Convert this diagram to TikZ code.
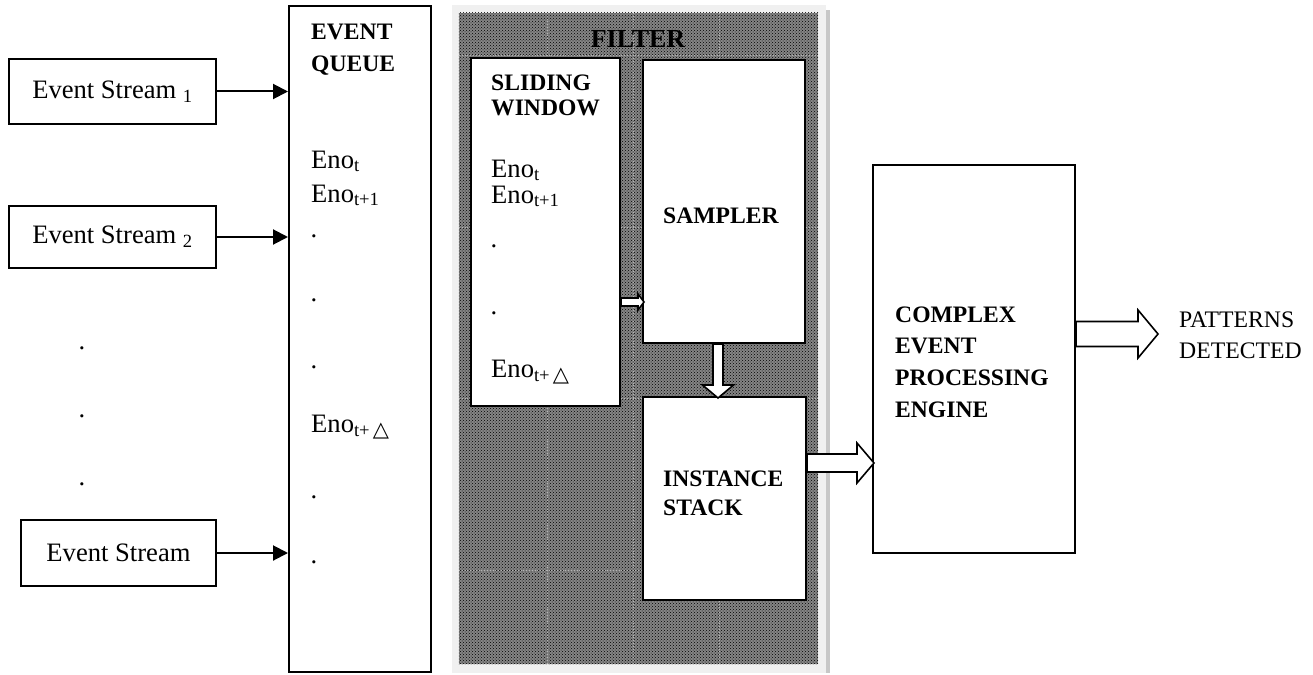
\documentclass[tikz,border=0pt]{standalone}
\usepackage{fontspec}
\setmainfont{Liberation Serif}
\newfontfamily\deltafont{DejaVu Sans}
\usepackage{tikz}
\usetikzlibrary{arrows.meta,patterns}

% the delta in the last index
\newcommand{\dlt}{{\deltafont\fontsize{21}{21}\selectfont\textbf{△}}}
\newcommand{\enolast}{Eno\textsubscript{t+\,\dlt}}

\tikzset{
  box/.style={draw, line width=2pt, fill=white, inner sep=0pt},
  feed/.style={line width=2pt, -{Triangle[length=15pt,width=15pt]}},
  txt/.style={anchor=base west, inner sep=0pt, font=\fontsize{26.6}{32}\selectfont},
  head/.style={anchor=base west, inner sep=0pt, font=\bfseries\fontsize{23.6}{30}\selectfont},
  pics/fatarrow/.style args={#1/#2/#3/#4}{code={
    \draw[line width=1.6pt, fill=white, line join=miter]
      (0,-#2) -- (#1-#4,-#2) -- (#1-#4,-#3) -- (#1,0) -- (#1-#4,#3) -- (#1-#4,#2) -- (0,#2) -- cycle;
  }}
}

\begin{document}
\begin{tikzpicture}[x=1pt, y=-1pt]
\useasboundingbox (0,0) rectangle (1313,674);

% Filter panel
\fill[black!6] (452,5) rectangle (826,673);
\fill[black!22] (826,10) rectangle (830,673);
\node[fill=black!48, inner sep=0pt, minimum width=359pt, minimum height=651pt] (filter) at (638.5,338.5) {};
\fill[pattern=crosshatch dots, pattern color=black] (filter.north west) rectangle (filter.south east);
\foreach \x in {547,633,719}
  \draw[black!30, dotted, line width=0.8pt] (\x,13) -- (\x,664);
\foreach \y in {55,227,398,570}
  \draw[black!30, dotted, line width=0.8pt] (459,\y) -- (818,\y);
\node[head, anchor=base, font=\bfseries\fontsize{26}{30}\selectfont] (ftitle) at (638,48) {FILTER};

% Input streams
\node[box, minimum width=207pt, minimum height=65pt, font=\fontsize{26.6}{32}\selectfont] (s1) at (112.5,91.5) {Event Stream \textsubscript{1}};
\node[box, minimum width=207pt, minimum height=62pt, font=\fontsize{26.6}{32}\selectfont] (s2) at (112.5,237) {Event Stream \textsubscript{2}};
\node[box, minimum width=195pt, minimum height=66pt, font=\fontsize{26.6}{32}\selectfont] (s3) at (118.5,553) {Event Stream};
\foreach \y [count=\i] in {349,417,485}
  \node[txt] (sd\i) at (78.5,\y) {.};

% Event queue
\node[box, minimum width=142pt, minimum height=666pt] (queue) at (360,339) {};
\node[head] (qh1) at (311,40) {EVENT};
\node[head] (qh2) at (311,72) {QUEUE};
\node[txt] (q1) at (311,168) {Eno\textsubscript{t}};
\node[txt] (q2) at (311,202) {Eno\textsubscript{t+1}};
\node[txt] (q3) at (311,432) {\enolast};
\foreach \y [count=\i] in {237,301,368,498,563}
  \node[txt] (qd\i) at (310.5,\y) {.};

\draw[feed] (s1.east) -- (s1.east -| queue.west);
\draw[feed] (s2.east) -- (s2.east -| queue.west);
\draw[feed] (s3.east) -- (s3.east -| queue.west);

% Sliding window
\node[box, minimum width=149pt, minimum height=348pt] (win) at (545.5,232) {};
\node[head] (wh1) at (491,91) {SLIDING};
\node[head] (wh2) at (491,115) {WINDOW};
\node[txt] (w1) at (491,177) {Eno\textsubscript{t}};
\node[txt] (w2) at (491,203) {Eno\textsubscript{t+1}};
\node[txt] (w3) at (491,377) {\enolast};
\foreach \y [count=\i] in {247,314}
  \node[txt] (wd\i) at (490.5,\y) {.};

% Sampler and instance stack
\node[box, minimum width=162pt, minimum height=283pt] (samp) at (724,201.5) {};
\node[head] (sampt) at (663,223) {SAMPLER};
\node[box, minimum width=163pt, minimum height=203pt] (stack) at (724.5,498.5) {};
\node[head] (st1) at (663,486) {INSTANCE};
\node[head] (st2) at (663,515) {STACK};

% Engine
\node[box, minimum width=202pt, minimum height=388pt] (cep) at (974,359) {};
\node[head] (c1) at (895,322) {COMPLEX};
\node[head] (c2) at (895,353) {EVENT};
\node[head] (c3) at (895,385) {PROCESSING};
\node[head] (c4) at (895,417) {ENGINE};

% Output
\node[txt, font=\fontsize{23.7}{30}\selectfont] (o1) at (1179,327) {PATTERNS};
\node[txt, font=\fontsize{23.7}{30}\selectfont] (o2) at (1179,358) {DETECTED};

% Block arrows
\pic at (win.east |- 0,302) {fatarrow=23/4/8/6};
\pic[rotate=-90] at (samp.south -| 718,0) {fatarrow=54/5/15.5/13};
\pic at (stack.east |- 0,463) {fatarrow=67/9/20/17};
\pic at (cep.east |- 0,334) {fatarrow=82/12.5/24/20};

\end{tikzpicture}
\end{document}
